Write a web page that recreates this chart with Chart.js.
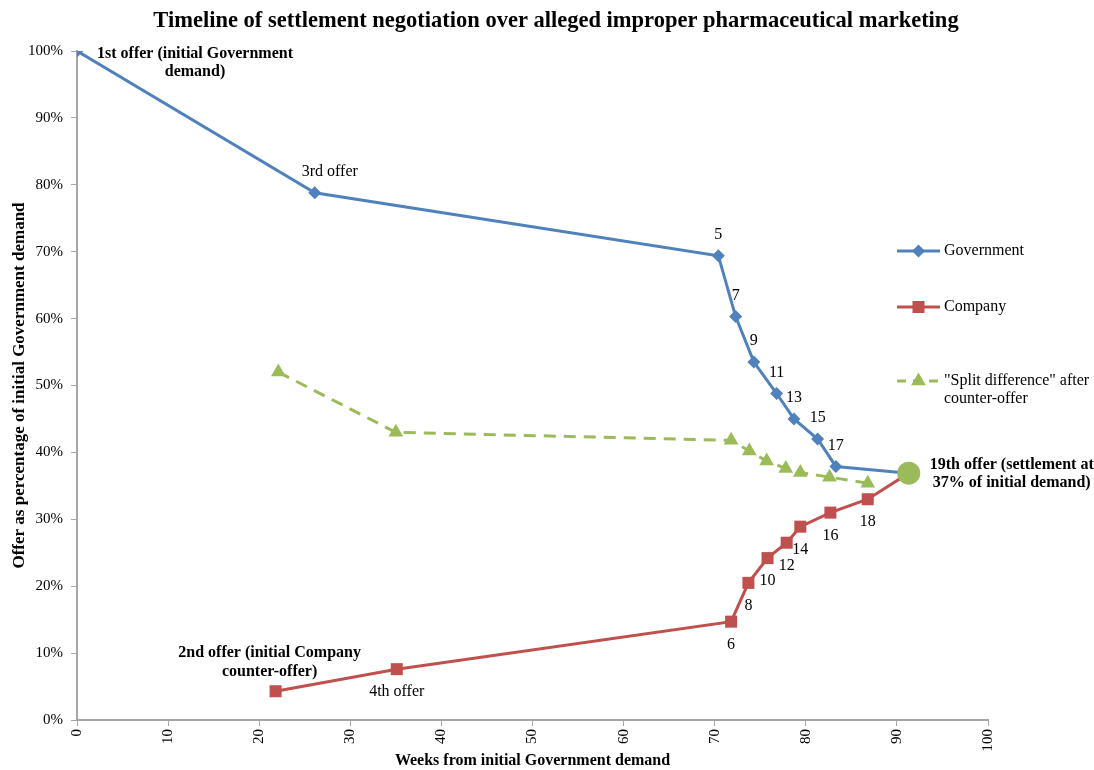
<!DOCTYPE html>
<html>
<head>
<meta charset="utf-8">
<script src="https://cdn.jsdelivr.net/npm/chart.js@4"></script>
<style>
html,body{margin:0;padding:0;background:#fff;}
#wrap{width:1094px;height:770px;position:relative;}
</style>
</head>
<body>
<div id="wrap"><canvas id="c" width="1094" height="770"></canvas></div>
<script>
const chartTitle = "Timeline of settlement negotiation over alleged improper pharmaceutical marketing";
const xAxisTitle = "Weeks from initial Government demand";
const yAxisTitle = "Offer as percentage of initial Government demand";
const seriesNames = ["Government", "Company", "\"Split difference\" after\ncounter-offer"];

const govWeeks = [0, 26.1, 70.4, 72.3, 74.3, 76.8, 78.7, 81.3, 83.3, 91.3];
const govPct   = [100, 78.8, 69.4, 60.3, 53.5, 48.8, 45.0, 42.0, 37.9, 36.9];
const govLabels = ["1st offer (initial Government\ndemand)", "3rd offer", "5", "7", "9", "11", "13", "15", "17", ""];

const compWeeks = [21.8, 35.1, 71.8, 73.7, 75.8, 77.9, 79.4, 82.7, 86.8, 91.3];
const compPct   = [4.3, 7.6, 14.7, 20.5, 24.2, 26.5, 28.9, 31.0, 33.0, 36.9];
const compLabels = ["2nd offer (initial Company\ncounter-offer)", "4th offer", "6", "8", "10", "12", "14", "16", "18", ""];

const splitWeeks = [22.1, 35.0, 71.8, 73.8, 75.7, 77.8, 79.4, 82.6, 86.8];
const splitPct   = [52.0, 43.0, 41.8, 40.2, 38.7, 37.6, 37.0, 36.3, 35.4];

const settleWeeks = [91.3];
const settlePct   = [36.9];
const settleLabel = "19th offer (settlement at\n37% of initial demand)";

const xTicks = [0,10,20,30,40,50,60,70,80,90,100];
const yTicks = [0,10,20,30,40,50,60,70,80,90,100];

const BLUE = '#4F81BD', RED = '#C0504D', GREEN = '#9BBB59';
const FONT = "'Liberation Serif', 'DejaVu Serif', serif";

function pts(xs, ys){ return xs.map((x,i)=>({x:x, y:ys[i]})); }

// label placement styles (pixel offsets from the data point)
const govStyle = govLabels.map((t,i)=> i===0 ? {dx:118, dy:3, bold:true, lh:18} : {dx: i===1?15:0, dy:-21, bold:false, lh:18});
const compStyle = compLabels.map((t,i)=> i===0 ? {dx:-6, dy:-38, bold:true, lh:19} : {dx:0, dy:23, bold:false, lh:18});

const labelPlugin = {
  id: 'labels',
  afterDatasetsDraw(chart){
    const ctx = chart.ctx;
    const xs = chart.scales.x, ys = chart.scales.y;
    ctx.save();
    ctx.fillStyle = '#000';
    ctx.textAlign = 'center';
    ctx.textBaseline = 'middle';
    function put(text, x, y, st){
      if(!text) return;
      ctx.font = (st.bold?'bold ':'') + '16px ' + FONT;
      const lines = text.split('\n');
      lines.forEach((ln,k)=> ctx.fillText(ln, x + st.dx, y + st.dy + k*st.lh));
    }
    govLabels.forEach((t,i)=> put(t, xs.getPixelForValue(govWeeks[i]), ys.getPixelForValue(govPct[i]), govStyle[i]));
    compLabels.forEach((t,i)=> put(t, xs.getPixelForValue(compWeeks[i]), ys.getPixelForValue(compPct[i]), compStyle[i]));
    put(settleLabel, xs.getPixelForValue(settleWeeks[0]), ys.getPixelForValue(settlePct[0]), {dx:103, dy:-8, bold:true, lh:18});

    // title
    ctx.font = 'bold 22.5px ' + FONT;
    ctx.fillText(chartTitle, 556, 21);

    // legend
    const lx = 897, items = [
      {y:251, color:BLUE, style:'rectRot', r:6.5, dash:[]},
      {y:307, color:RED, style:'rect', r:8.5, dash:[]},
      {y:381, color:GREEN, style:'triangle', r:8.5, dash:[9,7]}
    ];
    items.forEach((it,k)=>{
      ctx.strokeStyle = it.color; ctx.lineWidth = 3; ctx.setLineDash(it.dash);
      ctx.beginPath(); ctx.moveTo(lx, it.y); ctx.lineTo(lx+43, it.y); ctx.stroke();
      ctx.setLineDash([]);
      ctx.fillStyle = it.color;
      Chart.helpers.drawPoint(ctx, {pointStyle: it.style, radius: it.r, borderWidth: 0}, lx+21.5, it.y);
      ctx.fillStyle = '#000';
      ctx.textAlign = 'left';
      ctx.font = '16px ' + FONT;
      seriesNames[k].split('\n').forEach((ln,j)=> ctx.fillText(ln, 944, it.y + j*18));
    });
    ctx.restore();
  }
};

new Chart(document.getElementById('c'), {
  type: 'scatter',
  data: {
    datasets: [
      {label: seriesNames[0], data: pts(govWeeks, govPct), showLine: true, borderColor: BLUE, backgroundColor: BLUE,
        borderWidth: 3, pointStyle: 'rectRot', pointRadius: govWeeks.map((v,i)=> i===govWeeks.length-1?0:6.5), pointBorderWidth: 0, order: 3},
      {label: seriesNames[1], data: pts(compWeeks, compPct), showLine: true, borderColor: RED, backgroundColor: RED,
        borderWidth: 3, pointStyle: 'rect', pointRadius: compWeeks.map((v,i)=> i===compWeeks.length-1?0:8.5), pointBorderWidth: 0, order: 2},
      {label: seriesNames[2], data: pts(splitWeeks, splitPct), showLine: true, borderColor: GREEN, backgroundColor: GREEN,
        borderWidth: 3, borderDash: [12,8], pointStyle: 'triangle', pointRadius: 8.5, pointBorderWidth: 0, order: 4},
      {label: 'settlement', data: pts(settleWeeks, settlePct), showLine: false, backgroundColor: GREEN, borderColor: GREEN,
        pointStyle: 'circle', pointRadius: 11.5, pointBorderWidth: 0, order: 1}
    ]
  },
  options: {
    responsive: false,
    animation: false,
    events: [],
    layout: {padding: {top: 51, right: 106, left: 0, bottom: 0}},
    plugins: {legend: {display: false}, title: {display: false}, tooltip: {enabled: false}},
    scales: {
      x: {
        type: 'linear', min: 0, max: 100,
        afterBuildTicks(s){ s.ticks = xTicks.map(v=>({value:v})); },
        afterFit(s){ s.height = 50; },
        grid: {drawOnChartArea: false, drawTicks: true, tickLength: 6, color: '#A6A6A6'},
        border: {display: true, color: '#A6A6A6', width: 2},
        ticks: {minRotation: 90, maxRotation: 90, padding: 3, color: '#000', font: {family: FONT, size: 15}},
        title: {display: true, text: xAxisTitle, color: '#000', font: {family: FONT, size: 16, weight: 'bold'}, padding: {top: 0, bottom: 0}}
      },
      y: {
        type: 'linear', min: 0, max: 100,
        afterBuildTicks(s){ s.ticks = yTicks.map(v=>({value:v})); },
        afterFit(s){ s.width = 77; },
        grid: {drawOnChartArea: false, drawTicks: true, tickLength: 6, color: '#A6A6A6'},
        border: {display: true, color: '#A6A6A6', width: 2},
        ticks: {padding: 8, color: '#000', font: {family: FONT, size: 15}, callback: v => v + '%'},
        title: {display: true, text: yAxisTitle, color: '#000', font: {family: FONT, size: 17, weight: 'bold'}, padding: {top: 9, bottom: 0}}
      }
    }
  },
  plugins: [labelPlugin]
});
</script>
</body>
</html>
